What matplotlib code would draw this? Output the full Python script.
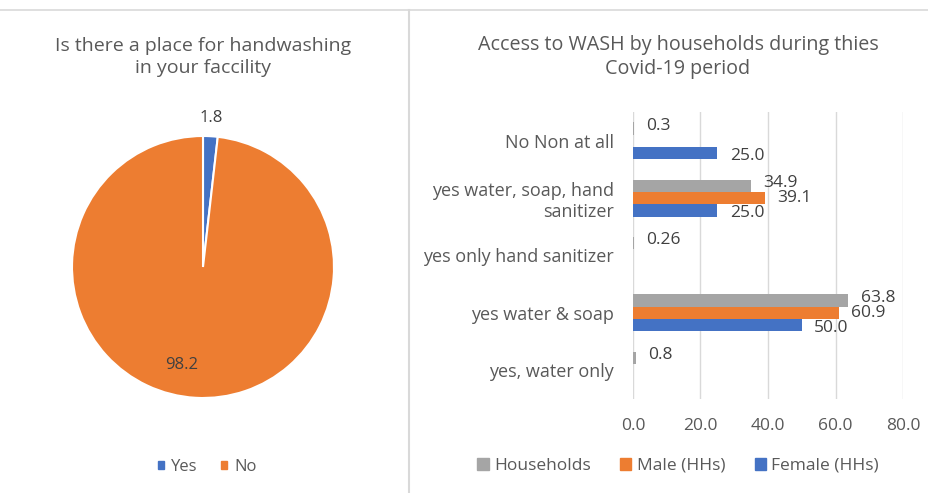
import numpy as np
import matplotlib
matplotlib.use('Agg')
import matplotlib.pyplot as plt
from matplotlib.lines import Line2D

plt.rcParams['font.family'] = ['Open Sans', 'DejaVu Sans']

# pie data
pie_labels = ['Yes', 'No']
pie_values = [1.8, 98.2]
pie_colors = ['#4472C4', '#ED7D31']

# bar data (top to bottom)
categories = ['No Non at all', 'yes water, soap, hand\nsanitizer', 'yes only hand sanitizer',
              'yes water & soap', 'yes, water only']
households = [0.3, 34.9, 0.26, 63.8, 0.8]
male = [np.nan, 39.1, np.nan, 60.9, np.nan]
female = [25.0, 25.0, np.nan, 50.0, np.nan]
series_names = ['Households', 'Male (HHs)', 'Female (HHs)']
series_colors = ['#A5A5A5', '#ED7D31', '#4472C4']
xticks = [0, 20, 40, 60, 80]

txt = '#595959'

fig = plt.figure(figsize=(9.29, 4.93), dpi=100)

# frame lines
fig.add_artist(Line2D([0, 1], [1 - 10 / 493, 1 - 10 / 493], color='#D9D9D9', lw=1.2))
fig.add_artist(Line2D([409 / 929, 409 / 929], [0, 1 - 10 / 493], color='#D9D9D9', lw=1.5))

# ---- pie ----
ax1 = fig.add_axes([72 / 929, (493 - 267 - 131) / 493, 262 / 929, 262 / 493])
wedges, _ = ax1.pie(pie_values, colors=pie_colors, startangle=90, counterclock=False,
                    wedgeprops=dict(edgecolor='white', linewidth=1.5))
ax1.set_xlim(-1, 1)
ax1.set_ylim(-1, 1)
dists = [1.14, 0.75]
for w, v, d in zip(wedges, pie_values, dists):
    ang = np.deg2rad((w.theta1 + w.theta2) / 2)
    ax1.text(d * np.cos(ang) - (0.12 if d < 1 else 0), d * np.sin(ang), '{:.1f}'.format(v),
             ha='center', va='center', fontsize=12, color='#404040')

fig.text(203 / 929, 1 - 57 / 493, 'Is there a place for handwashing\nin your faccility',
         ha='center', va='center', fontsize=14, color=txt, linespacing=1.3)

pie_handles = [plt.Rectangle((0, 0), 1, 1, color=c) for c in pie_colors]
fig.legend(pie_handles, pie_labels, loc='center', bbox_to_anchor=(207 / 929, 1 - 467 / 493),
           ncol=2, frameon=False, fontsize=12, handlelength=0.4, handleheight=0.4,
           handletextpad=0.4, columnspacing=1.4, labelcolor=txt)

# ---- bars ----
ax2 = fig.add_axes([633 / 929, 1 - 399 / 493, 270 / 929, 287 / 493])
y = np.arange(len(categories))
h = 0.215
nudge = [-2, 0, 2]
for i, (vals, c) in enumerate(zip([households, male, female], series_colors)):
    pos = y + (i - 1) * h
    ax2.barh(pos, vals, height=h, color=c)
    for p, v in zip(pos, vals):
        if np.isnan(v):
            continue
        s = '{:.2f}'.format(v) if v == 0.26 else '{:.1f}'.format(v)
        ax2.annotate(s, (v, p), xytext=(9, -nudge[i]), textcoords='offset points',
                     ha='left', va='center', fontsize=12.5, color='#404040')

ax2.set_xlim(0, 80)
ax2.set_ylim(len(categories) - 0.5, -0.5)
ax2.set_yticks(y)
ax2.set_yticklabels(categories, fontsize=13, color=txt, linespacing=1.2)
ax2.set_xticks(xticks)
ax2.set_xticklabels(['{:.1f}'.format(t) for t in xticks], fontsize=12.5, color=txt)
ax2.tick_params(length=0, axis='y', pad=14)
ax2.tick_params(length=0, axis='x', pad=14)
ax2.grid(axis='x', color='#D9D9D9', lw=1)
ax2.set_axisbelow(True)
for s in ax2.spines.values():
    s.set_visible(False)

fig.text(678 / 929, 1 - 57 / 493, 'Access to WASH by households during thies\nCovid-19 period',
         ha='center', va='center', fontsize=14.2, color=txt, linespacing=1.3)

bar_handles = [plt.Rectangle((0, 0), 1, 1, color=c) for c in series_colors]
fig.legend(bar_handles, series_names, loc='center', bbox_to_anchor=(678 / 929, 1 - 466 / 493),
           ncol=3, frameon=False, fontsize=12.5, handlelength=0.65, handleheight=0.65,
           handletextpad=0.3, columnspacing=1.7, labelcolor=txt)

fig.savefig('out.png', dpi=100)
